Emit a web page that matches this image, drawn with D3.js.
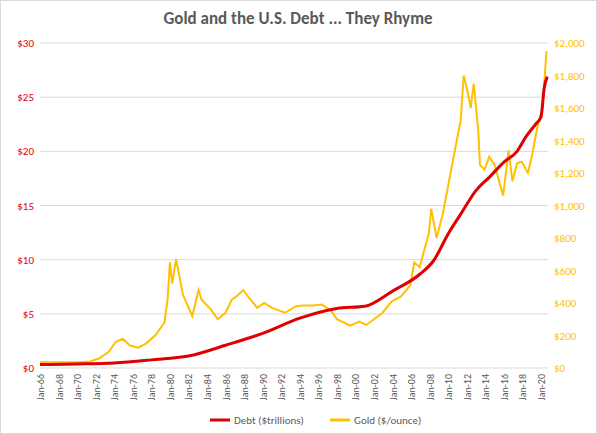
<!DOCTYPE html><html><head><meta charset="utf-8">
<script src="https://cdn.jsdelivr.net/npm/d3@7"></script>
<style>body{margin:0;background:#fff;font-family:Calibri,Carlito,"Liberation Sans",Arial,sans-serif}</style></head><body>
<svg id="c" width="597" height="434"></svg>
<script>
const debtDates=["1966-01","1970-01","1974-01","1978-01","1982-01","1986-01","1990-01","1994-01","1998-01","2001-01","2004-01","2007-01","2008-06","2010-01","2011-06","2013-01","2014-06","2016-01","2017-06","2018-06","2019-06","2020-01","2020-05","2020-09"];
const debtValues=[0.32,0.37,0.47,0.75,1.1,2.1,3.2,4.6,5.5,5.7,7.1,8.7,9.9,12.4,14.3,16.4,17.6,19.0,20.0,21.4,22.5,23.2,25.8,26.9];
const goldDates=["1966-01","1970-01","1971-06","1972-06","1973-06","1974-03","1974-12","1975-09","1976-08","1977-06","1978-06","1979-06","1979-10","1980-01","1980-04","1980-09","1981-06","1982-06","1983-02","1983-06","1984-06","1985-03","1986-01","1986-09","1987-03","1987-12","1988-06","1989-06","1990-03","1991-01","1992-06","1993-08","1994-06","1995-06","1996-06","1997-06","1998-01","1999-06","2000-06","2001-03","2002-01","2002-12","2003-12","2004-12","2005-12","2006-05","2006-12","2007-12","2008-03","2008-10","2009-06","2009-12","2010-06","2010-12","2011-05","2011-09","2012-02","2012-06","2012-10","2013-04","2013-06","2013-12","2014-06","2015-01","2015-12","2016-07","2016-12","2017-06","2017-12","2018-08","2019-01","2019-09","2020-03","2020-08"];
const goldValues=[35,35,40,60,100,160,180,140,125,150,200,280,420,650,520,670,450,320,480,420,360,300,340,420,440,480,440,370,400,370,340,380,385,385,390,350,300,260,285,265,300,340,410,440,510,650,620,830,980,800,950,1100,1250,1400,1520,1800,1700,1600,1750,1450,1250,1220,1300,1250,1060,1340,1150,1260,1270,1200,1300,1500,1600,1950];
const leftTicks=[0,5,10,15,20,25,30];
const rightTicks=[0,200,400,600,800,1000,1200,1400,1600,1800,2000];
const xTickYears=d3.range(1966,2021,2);

const svg=d3.select("#c");
const m={l:40,r:49,t:43,b:66};
const W=597-m.l-m.r,H=434-m.t-m.b;
const p=d=>d3.timeParse("%Y-%m")(d);
const x=d3.scaleTime().domain([new Date(1966,0,1),new Date(2020,9,1)]).range([0,W]);
const yL=d3.scaleLinear().domain([0,30]).range([H,0]);
const yR=d3.scaleLinear().domain([0,2000]).range([H,0]);
svg.append("text").attr("x",298).attr("y",24).attr("text-anchor","middle").attr("font-size",17).attr("font-weight","bold").attr("fill","#595959").text("Gold and the U.S. Debt ... They Rhyme");
const g=svg.append("g").attr("transform",`translate(${m.l},${m.t})`);
g.selectAll(".gl").data(leftTicks).join("line").attr("x1",0).attr("x2",W).attr("y1",d=>yL(d)).attr("y2",d=>yL(d)).attr("stroke","#d9d9d9");
g.selectAll(".lt").data(leftTicks).join("text").attr("x",-6).attr("y",d=>yL(d)+4).attr("text-anchor","end").attr("font-size",11).attr("fill","#e00000").text(d=>"$"+d);
g.selectAll(".rt").data(rightTicks).join("text").attr("x",W+6).attr("y",d=>yR(d)+4).attr("font-size",11).attr("fill","#ffc000").text(d=>"$"+d3.format(",")(d));
g.selectAll(".xt").data(xTickYears).join("text").attr("transform",d=>`translate(${x(new Date(d,0,1))+4},${H+6}) rotate(-90)`).attr("text-anchor","end").attr("font-size",10).attr("fill","#595959").text(d=>"Jan-"+String(d).slice(2));
g.append("path").datum(goldDates.map((d,i)=>[p(d),goldValues[i]])).attr("fill","none").attr("stroke","#ffc000").attr("stroke-width",2).attr("d",d3.line().x(d=>x(d[0])).y(d=>yR(d[1])));
g.append("path").datum(debtDates.map((d,i)=>[p(d),debtValues[i]])).attr("fill","none").attr("stroke","#e00000").attr("stroke-width",3).attr("d",d3.line().curve(d3.curveMonotoneX).x(d=>x(d[0])).y(d=>yL(d[1])));
const lg=svg.append("g").attr("transform","translate(210,420)");
lg.append("line").attr("x1",0).attr("x2",20).attr("stroke","#e00000").attr("stroke-width",3);
lg.append("text").attr("x",24).attr("y",4).attr("font-size",11).attr("fill","#595959").text("Debt ($trillions)");
lg.append("line").attr("x1",120).attr("x2",140).attr("stroke","#ffc000").attr("stroke-width",3);
lg.append("text").attr("x",144).attr("y",4).attr("font-size",11).attr("fill","#595959").text("Gold ($/ounce)");
svg.append("rect").attr("x",0.5).attr("y",0.5).attr("width",596).attr("height",433).attr("fill","none").attr("stroke","#d9d9d9");
</script></body></html>
